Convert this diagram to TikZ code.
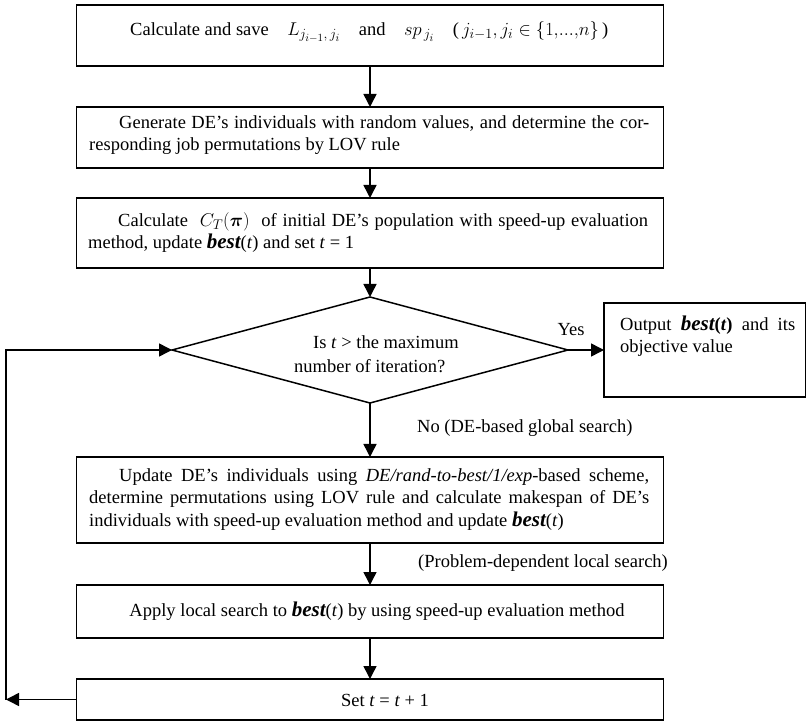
\RequirePackage{fix-cm}
\documentclass[tikz,border=0pt]{standalone}
\usepackage{amsmath}
\usepackage{fontspec}
\setmainfont{Liberation Serif}
\DeclareMathSizes{18.5}{18.5}{14}{11}
\usetikzlibrary{arrows.meta,shapes.geometric}
\newcommand{\bestbf}{{\fontsize{21}{21}\selectfont\bfseries\itshape best}}
\begin{document}
\begin{tikzpicture}[x=1pt,y=-1pt,
  every node/.style={font=\fontsize{18.5}{22.5}\selectfont},
  box/.style={draw, line width=1.5pt, minimum width=587pt, inner sep=0pt, outer sep=0pt},
  txt/.style={inner sep=0pt, align=justify},
  lbl/.style={inner sep=0pt},
  arr/.style={line width=1.5pt, -{Triangle[length=13pt,width=13pt]}},
  ln/.style={line width=1.5pt}]
\useasboundingbox (0,0) rectangle (807,722);

\node[box, minimum height=61pt] (b1) at (370,35.5) {};
\node[lbl, anchor=base west] (t1) at (130,36) {Calculate and save\quad $L_{j_{i-1},\,j_i}$\quad and\quad $sp_{\,j_i}$\quad (\,$j_{i-1}, j_i \in \{1,\!...,\!n\}$\,)};

\node[box, minimum height=61pt] (b2) at (370,137.5) {};
\node[txt, anchor=west, text width=560pt] (t2) at (89,135) {\hspace*{30pt}Generate DE's individuals with random values, and determine the cor-\linebreak responding job permutations by LOV rule};

\node[box, minimum height=70pt] (b3) at (370,233) {};
\node[txt, anchor=west, text width=560pt] (t3) at (88,232.5) {\hspace*{30pt}Calculate\ \ $C_T(\boldsymbol{\pi})$\ \ of initial DE's population with speed-up evaluation\linebreak method, update \bestbf(\textit{t}) and set \textit{t} = 1};

\node[shape=diamond, draw, line width=1.5pt, minimum width=396pt, minimum height=106pt, inner sep=0pt, outer sep=0pt] (dia) at (370,350) {};
\node[lbl, anchor=west, align=left, font=\fontsize{18.5}{24}\selectfont] (dt) at (294,354) {\hspace*{19pt}Is \textit{t} > the maximum\\number of iteration?};

\node[draw, line width=1.5pt, minimum width=201.5pt, minimum height=94pt, inner sep=0pt, outer sep=0pt] (out) at (704.75,350) {};
\node[txt, anchor=west, text width=175pt] (ot) at (620,336) {Output \bestbf{\bfseries(\textit{t})} and its\linebreak objective value};

\node[box, minimum height=86pt] (b4) at (370,500) {};
\node[txt, anchor=west, text width=560pt] (t4) at (89,499.5) {\hspace*{30pt}Update DE's individuals using \textit{DE/rand-to-best/1/exp}-based scheme,\linebreak determine permutations using LOV rule and calculate makespan of DE's\linebreak individuals with speed-up evaluation method and update \bestbf(\textit{t})};

\node[box, minimum height=53pt] (b5) at (370,611.5) {};
\node[lbl] (t5) at (377,611) {Apply local search to \bestbf(\textit{t}) by using speed-up evaluation method};

\node[box, minimum height=41pt] (b6) at (370,699.5) {};
\node[lbl] (t6) at (385,700) {Set \textit{t} = \textit{t} + 1};

\node[lbl] (yes) at (571,330) {Yes};
\node[lbl, anchor=west] (no) at (417,428) {No (DE-based global search)};
\node[lbl, anchor=west] (pd) at (418,563) {(Problem-dependent local search)};

\coordinate (lc1) at (6,699.5);
\coordinate (lc2) at (6,350);

\draw[arr] (b1.south) -- (b2.north);
\draw[arr] (b2.south) -- (b3.north);
\draw[arr] (b3.south) -- (dia.north);
\draw[arr] (dia.east) -- (out.west);
\draw[arr] (dia.south) -- (b4.north);
\draw[arr] (b4.south) -- (b5.north);
\draw[arr] (b5.south) -- (b6.north);
\draw[arr] (b6.west) -- (lc1);
\draw[arr] (lc1) -- (lc2) -- (dia.west);
\end{tikzpicture}
\end{document}
